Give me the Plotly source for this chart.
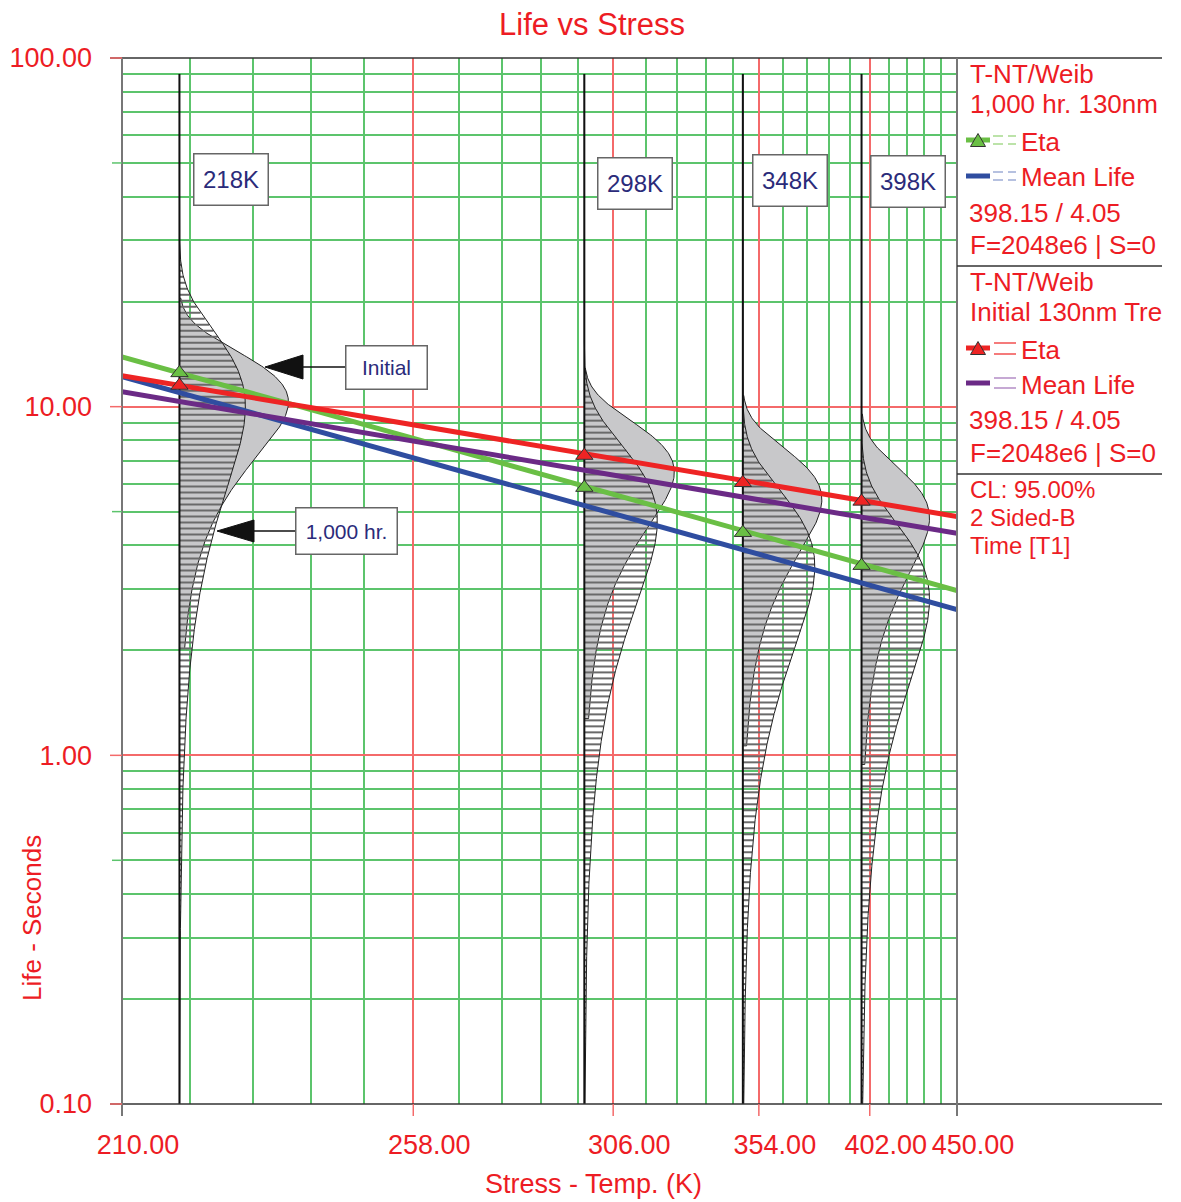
import numpy as np
import plotly.graph_objects as go

# ---------------- data ----------------
STRESS_TEMPS = [218, 298, 348, 398]
STRESS_LABELS = ["218K", "298K", "348K", "398K"]
ETA_1000HR = [12.5, 5.86, 4.35, 3.50]      # green triangles
ETA_INITIAL = [11.5, 7.24, 6.05, 5.35]     # red triangles
LINE_TEMPS = [210, 450]
ETA_1000HR_LINE = [13.9, 2.97]
MEAN_1000HR_LINE = [12.2, 2.62]
ETA_INITIAL_LINE = [12.27, 4.84]
MEAN_INITIAL_LINE = [11.04, 4.33]
BETA_INITIAL = 3.3
BETA_1000HR = 2.4
X_TICKS = [210, 258, 306, 354, 402, 450]
X_TICK_TEXT = ["210.00", "258.00", "306.00", "354.00", "402.00", "450.00"]
Y_TICKS = [0.1, 1, 10, 100]
Y_TICK_TEXT = ["0.10", "1.00", "10.00", "100.00"]

# ---------------- layout / style constants ----------------
OFF = 8                      # page body margin
W, H = 1173, 1194
PL, PR, PT, PB = 122, 957, 58, 1104   # plot area in screenshot pixels
PDF_PEAK_INITIAL_PX = [109, 90, 79, 68]
PDF_PEAK_1000HR_PX = [66, 73, 72, 68]
GRAY_RANGE = (0.176, 1.78)
RED = "#ed1c24"
NAVY = "#2b2b7a"
C_GREEN = "#6abf45"
C_BLUE = "#2f4da0"
C_RED = "#ee2424"
C_PURPLE = "#6b2a86"
GRID_GREEN = "#5cc46c"
GRID_RED = "#f46a6a"
FONT = "Liberation Sans, Arial, sans-serif"


def u_of(T):
    return 1000.0 / np.asarray(T, dtype=float)


U_LEFT, U_RIGHT = 1000 / 210, 1000 / 450
PX_PER_U = (PR - PL) / (U_LEFT - U_RIGHT)


def px_x(px):
    return (px - PL) / (PR - PL)


def px_y(py):
    return (PB - py) / (PB - PT)


def weib_shape(t, eta, beta):
    z = t / eta
    g = z ** (beta - 1) * np.exp(-z ** beta)
    m = ((beta - 1) / beta) ** (1 / beta)
    gmax = m ** (beta - 1) * np.exp(-m ** beta)
    return g / gmax


fig = go.Figure()

# ---------------- pdfs ----------------
hatch_logs = np.arange(-1, 2, 6 / 349)
for i, T in enumerate(STRESS_TEMPS):
    ub = float(u_of(T))
    # gray (Initial) pdf
    eta, beta = ETA_INITIAL[i], BETA_INITIAL
    t = np.logspace(np.log10(GRAY_RANGE[0] * eta), np.log10(GRAY_RANGE[1] * eta), 300)
    w = weib_shape(t, eta, beta) * PDF_PEAK_INITIAL_PX[i] / PX_PER_U
    fig.add_trace(go.Scatter(
        x=np.concatenate([[ub], ub - w, [ub]]), y=np.concatenate([[t[0]], t, [t[-1]]]),
        mode="lines", fill="toself", fillcolor="#c8c8ca",
        line=dict(color="#222222", width=1), hoverinfo="skip", showlegend=False))
    # hatched (1,000 hr) pdf
    eta2, beta2 = ETA_1000HR[i], BETA_1000HR
    hx, hy = [], []
    for lg in hatch_logs:
        tv = 10 ** lg
        wv = weib_shape(tv, eta2, beta2) * PDF_PEAK_1000HR_PX[i]
        if wv > 1.0:
            hx += [ub, ub - wv / PX_PER_U, None]
            hy += [tv, tv, None]
    fig.add_trace(go.Scatter(x=hx, y=hy, mode="lines", line=dict(color="#6a6a6a", width=2),
                             hoverinfo="skip", showlegend=False))
    t2 = np.logspace(-1, np.log10(90), 700)
    w2 = weib_shape(t2, eta2, beta2) * PDF_PEAK_1000HR_PX[i] / PX_PER_U
    fig.add_trace(go.Scatter(x=ub - w2, y=t2, mode="lines", line=dict(color="#222222", width=1),
                             hoverinfo="skip", showlegend=False))
    fig.add_trace(go.Scatter(x=[ub, ub], y=[0.1, 90], mode="lines",
                             line=dict(color="#111111", width=2), hoverinfo="skip", showlegend=False))

# ---------------- life-stress lines ----------------
ul = u_of(LINE_TEMPS)
for vals, col in [(ETA_1000HR_LINE, C_GREEN), (MEAN_1000HR_LINE, C_BLUE),
                  (MEAN_INITIAL_LINE, C_PURPLE), (ETA_INITIAL_LINE, C_RED)]:
    fig.add_trace(go.Scatter(x=ul, y=vals, mode="lines", line=dict(color=col, width=5),
                             hoverinfo="skip", showlegend=False))

us = u_of(STRESS_TEMPS)
fig.add_trace(go.Scatter(x=us, y=ETA_1000HR, mode="markers",
                         marker=dict(symbol="triangle-up", size=15, color=C_GREEN,
                                     line=dict(color="#333333", width=1)), showlegend=False))
fig.add_trace(go.Scatter(x=us, y=ETA_INITIAL, mode="markers",
                         marker=dict(symbol="triangle-up", size=15, color=C_RED,
                                     line=dict(color="#333333", width=1)), showlegend=False))

# ---------------- axes ----------------
minor_T = []
for a, b in zip(X_TICKS[:-1], X_TICKS[1:]):
    minor_T += list(np.linspace(a, b, 6)[1:-1])
minor_y = [k * 10.0 ** d for d in (-1, 0, 1) for k in range(2, 10)]

fig.update_xaxes(range=[U_LEFT, U_RIGHT], tickvals=list(u_of(X_TICKS)), ticktext=X_TICK_TEXT,
                 showgrid=True, gridcolor=GRID_RED, gridwidth=1.5, ticks="", showline=False,
                 zeroline=False, tickfont=dict(family=FONT, size=27, color=RED),
                 ticklabelshift=-16, ticklabelstandoff=22, automargin=False,
                 minor=dict(tickvals=list(u_of(minor_T)), showgrid=True, gridcolor=GRID_GREEN,
                            gridwidth=1.5, ticks=""))
fig.update_yaxes(type="log", range=[-1, 2], tickvals=Y_TICKS, ticktext=Y_TICK_TEXT,
                 showgrid=True, gridcolor=GRID_RED, gridwidth=1.5, ticks="", showline=False,
                 zeroline=False, tickfont=dict(family=FONT, size=27, color=RED),
                 ticklabelstandoff=29, automargin=False,
                 minor=dict(tickvals=minor_y, showgrid=True, gridcolor=GRID_GREEN,
                            gridwidth=1.5, ticks=""))

shapes = []
def pline(x0, y0, x1, y1, color, width, dash=None):
    d = dict(type="line", xref="paper", yref="paper", x0=px_x(x0), y0=px_y(y0),
             x1=px_x(x1), y1=px_y(y1), line=dict(color=color, width=width))
    if dash:
        d["line"]["dash"] = dash
    shapes.append(d)

# frame
pline(110, PT, 1162, PT, "#333333", 1.5)
pline(110, PB, 1162, PB, "#333333", 1.5)
pline(PL, PT, PL, PB + 12, "#777777", 2)
pline(PR, PT, PR, PB + 12, "#777777", 2)
pline(PR, 266, 1162, 266, "#333333", 1.5)
pline(PR, 474, 1162, 474, "#333333", 1.5)
# x ticks
for T in X_TICKS[1:-1]:
    xp = px_x(PL + (U_LEFT - float(u_of(T))) * PX_PER_U)
    shapes.append(dict(type="line", xref="paper", yref="paper", x0=xp, x1=xp, y0=0,
                       y1=-12 / (PB - PT), line=dict(color=GRID_RED, width=1.5)))
# y ticks
for v in Y_TICKS:
    yp = (np.log10(v) + 1) / 3
    shapes.append(dict(type="line", xref="paper", yref="paper", x0=-12 / (PR - PL), x1=0,
                       y0=yp, y1=yp, line=dict(color=GRID_RED, width=1.5)))
for v in [0.5, 5, 50]:
    yp = (np.log10(v) + 1) / 3
    shapes.append(dict(type="line", xref="paper", yref="paper", x0=-10 / (PR - PL), x1=0,
                       y0=yp, y1=yp, line=dict(color=GRID_GREEN, width=1.5)))


def tri_path(cx, cy, w, h):
    return (f"M {px_x(cx - w/2)},{px_y(cy + h/2)} L {px_x(cx + w/2)},{px_y(cy + h/2)} "
            f"L {px_x(cx)},{px_y(cy - h/2)} Z")


def arrow_path(tipx, tipy, basex, half):
    return (f"M {px_x(tipx)},{px_y(tipy)} L {px_x(basex)},{px_y(tipy - half)} "
            f"L {px_x(basex)},{px_y(tipy + half)} Z")

# annotation arrows
shapes.append(dict(type="path", xref="paper", yref="paper", path=arrow_path(265, 367, 303, 12),
                   fillcolor="#111111", line=dict(color="#111111", width=1)))
pline(303, 367, 345, 367, "#111111", 1.5)
shapes.append(dict(type="path", xref="paper", yref="paper", path=arrow_path(217, 531, 254, 11),
                   fillcolor="#111111", line=dict(color="#111111", width=1)))
pline(254, 531, 295, 531, "#111111", 1.5)

# legend symbols
pline(966, 140, 990, 140, C_GREEN, 5)
shapes.append(dict(type="path", xref="paper", yref="paper", path=tri_path(978, 140, 15, 13),
                   fillcolor=C_GREEN, line=dict(color="#333333", width=1)))
for yy in (136, 144):
    pline(993, yy, 1003, yy, "#8fd070", 1.2)
    pline(1008, yy, 1016, yy, "#8fd070", 1.2)
pline(966, 176, 990, 176, C_BLUE, 5)
for yy in (172, 180):
    pline(993, yy, 1003, yy, "#8598cc", 1.2)
    pline(1008, yy, 1016, yy, "#8598cc", 1.2)
pline(966, 348, 990, 348, C_RED, 5)
shapes.append(dict(type="path", xref="paper", yref="paper", path=tri_path(978, 348, 15, 13),
                   fillcolor=C_RED, line=dict(color="#333333", width=1)))
for yy in (343, 354):
    pline(994, yy, 1016, yy, C_RED, 1.2)
pline(966, 383, 990, 383, C_PURPLE, 5)
for yy in (378, 388):
    pline(994, yy, 1016, yy, "#a070b8", 1.2)

annotations = []
def ptext(text, x, y, size, color=RED, xanchor="left", **kw):
    annotations.append(dict(text=text, xref="paper", yref="paper", x=px_x(x), y=px_y(y),
                            xanchor=xanchor, yanchor="middle", showarrow=False,
                            font=dict(family=FONT, size=size, color=color), **kw))

ptext("Life vs Stress", 592, 24, 31, xanchor="center")
ptext("Stress - Temp. (K)", 593, 1184, 27, xanchor="center")
annotations.append(dict(text="Life - Seconds", xref="paper", yref="paper", x=px_x(32), y=px_y(918),
                        xanchor="center", yanchor="middle", showarrow=False, textangle=-90,
                        font=dict(family=FONT, size=26, color=RED)))

legend_rows = [("T-NT/Weib", 74, 968), ("1,000 hr. 130nm", 104, 968), ("Eta", 142, 1019),
               ("Mean Life", 177, 1019), ("398.15 / 4.05", 213, 967), ("F=2048e6 | S=0", 245, 968),
               ("T-NT/Weib", 282, 968), ("Initial 130nm Tre", 312, 968), ("Eta", 350, 1019),
               ("Mean Life", 385, 1019), ("398.15 / 4.05", 420, 967), ("F=2048e6 | S=0", 453, 968)]
for txt, yy, xx in legend_rows:
    ptext(txt, xx, yy, 26)
for txt, yy in [("CL: 95.00%", 489), ("2 Sided-B", 517), ("Time [T1]", 545)]:
    ptext(txt, 968, yy, 24)

# boxed labels
box_centers = [(231, 180), (635, 183), (790, 181), (908, 182)]
for lab, (cx, cy) in zip(STRESS_LABELS, box_centers):
    ptext(lab, cx, cy, 24, color=NAVY, xanchor="center", bgcolor="white",
          bordercolor="#666666", borderwidth=1.5, borderpad=0, width=73, height=50)
ptext("Initial", 386, 367, 21, color=NAVY, xanchor="center", bgcolor="white",
      bordercolor="#666666", borderwidth=1.5, borderpad=0, width=80, height=42)
ptext("1,000 hr.", 346, 531, 21, color=NAVY, xanchor="center", bgcolor="white",
      bordercolor="#666666", borderwidth=1.5, borderpad=0, width=100, height=45)

fig.update_layout(width=W, height=H, plot_bgcolor="white", paper_bgcolor="white",
                  margin=dict(l=PL - OFF, r=W - (PR - OFF), t=PT - OFF, b=H - (PB - OFF),
                              autoexpand=False),
                  shapes=shapes, annotations=annotations, showlegend=False)
fig.write_html("out.html")
